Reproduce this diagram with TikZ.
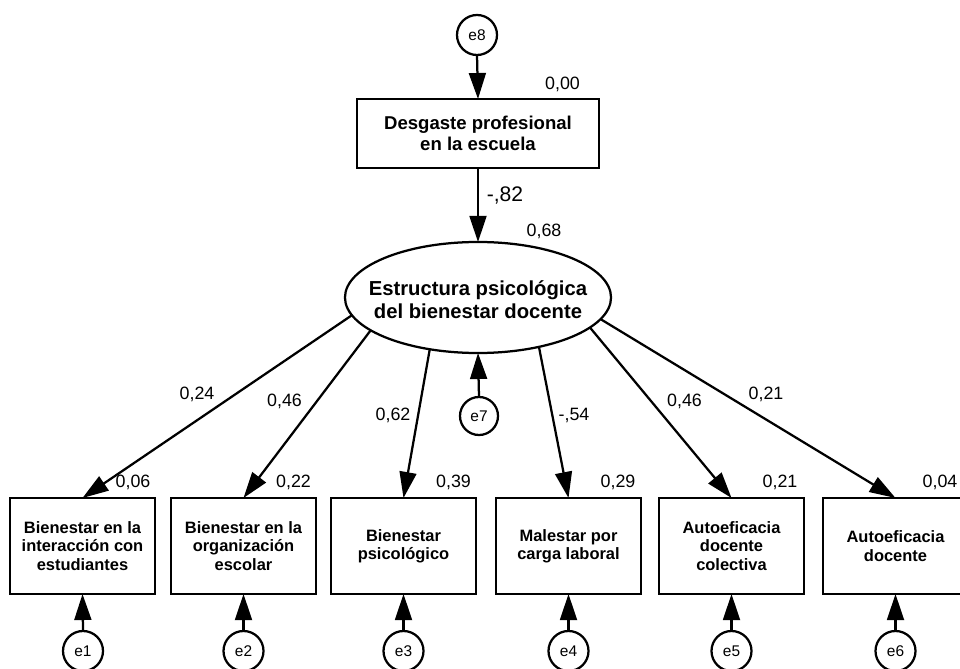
\documentclass[tikz,border=0pt]{standalone}
\usepackage{fontspec}
\setmainfont{Liberation Sans}
\usetikzlibrary{shapes.geometric,arrows.meta}
\begin{document}
\begin{tikzpicture}[x=0.025cm,y=-0.025cm,
  every node/.style={outer sep=0pt},
  arr/.style={line width=1.6pt,-{Triangle[length=18.5pt,width=12pt]}},
  obs/.style={draw,line width=1.6pt,minimum width=3.625cm,minimum height=2.4cm,inner sep=0pt,align=center,font=\fontsize{11.7}{13.1}\selectfont\bfseries},
  err/.style={draw,circle,line width=1.6pt,minimum size=1cm,inner sep=0pt,font=\fontsize{11}{13}\selectfont},
  num/.style={font=\fontsize{12.7}{14}\selectfont,inner sep=0pt,text depth=0pt}]
\fill[white] (0,0) rectangle (960,669);
\useasboundingbox (0,0) rectangle (960,669);

% top
\node[err] (e8) at (477,35) {e8};
\node[draw,line width=1.6pt,minimum width=6.05cm,minimum height=1.725cm,inner sep=0pt,align=center,
      font=\fontsize{13.2}{15.4}\selectfont\bfseries] (desg) at (478,133.5) {Desgaste profesional\\en la escuela};
\node[draw,ellipse,line width=1.6pt,minimum width=6.65cm,minimum height=2.775cm,inner sep=0pt] (ell) at (478,297.5) {};
\node[align=center,inner sep=0pt,font=\fontsize{14.4}{16.6}\selectfont\bfseries] (elltxt) at (478,299.5) {Estructura psicológica\\del bienestar docente};
\node[err,minimum size=0.95cm] (e7) at (479,416) {e7};

% observed boxes
\node[obs] (b1) at (82.5,546) {Bienestar en la\\interacción con\\estudiantes};
\node[obs] (b2) at (243.5,546) {Bienestar en la\\organización\\escolar};
\node[obs] (b3) at (403.5,546) {Bienestar\\psicológico};
\node[obs] (b4) at (568.5,546) {Malestar por\\carga laboral};
\node[obs] (b5) at (731.5,546) {Autoeficacia\\docente\\colectiva};
\node[obs] (b6) at (895.5,546) {Autoeficacia\\docente};

% error circles
\node[err] (e1) at (83,651) {e1};
\node[err] (e2) at (243.5,651) {e2};
\node[err] (e3) at (403.5,651) {e3};
\node[err] (e4) at (568.5,651) {e4};
\node[err] (e5) at (731.5,651) {e5};
\node[err] (e6) at (895.5,651) {e6};

% arrows
\draw[arr] (e8.south) -- (desg.north);
\draw[arr] (desg.south) -- (ell.north);
\draw[arr] (e7.north) -- (ell.south);
\draw[arr] (ell.188.8) -- (b1.north);
\draw[arr] (ell.197) -- (b2.north);
\draw[arr] (ell.227.4) -- (b3.north);
\draw[arr] (ell.321.3) -- (b4.north);
\draw[arr] (ell.345.1) -- (b5.north);
\draw[arr] (ell.350.2) -- (b6.north);
\foreach \i in {1,...,6} { \draw[arr] (e\i.north) -- (b\i.south); }

% numbers
\node[num] (r8) at (562.5,83) {0,00};
\node[num,font=\fontsize{15}{17}\selectfont] (p82) at (505,194) {-,82};
\node[num] (r7) at (544,230) {0,68};
\node[num] (r1) at (133,481) {0,06};
\node[num] (r2) at (293.5,481) {0,22};
\node[num] (r3) at (453.5,481) {0,39};
\node[num] (r4) at (618,481) {0,29};
\node[num] (r5) at (780,481) {0,21};
\node[num] (r6) at (940,481) {0,04};
\node[num] (p1) at (197,393) {0,24};
\node[num] (p2) at (284.5,400) {0,46};
\node[num] (p3) at (393,414) {0,62};
\node[num] (p4) at (574,414) {-,54};
\node[num] (p5) at (684.5,400) {0,46};
\node[num] (p6) at (766,393) {0,21};
\end{tikzpicture}
\end{document}
